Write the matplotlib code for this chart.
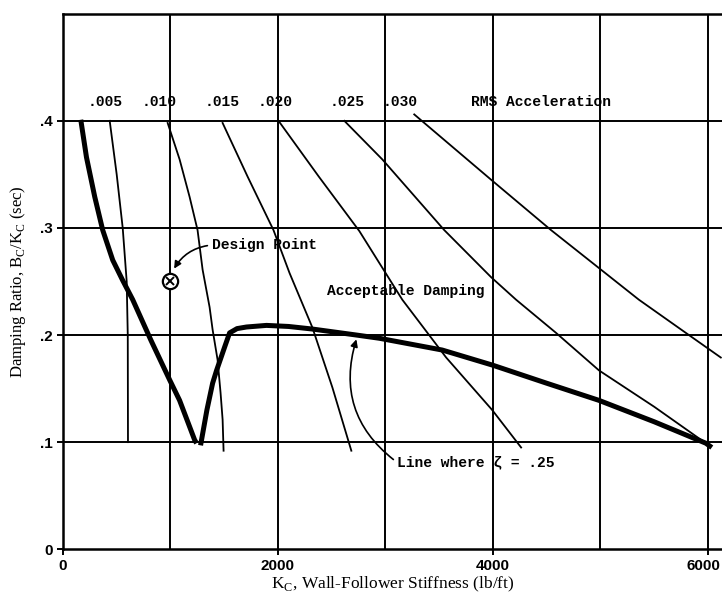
import numpy as np
import matplotlib.pyplot as plt
from matplotlib.transforms import ScaledTranslation

# RMS acceleration contours (K_c in lb/ft, damping ratio B_c/K_c in sec)
k_005 = [436, 501, 557, 594, 604, 606]
b_005 = [0.40, 0.35, 0.30, 0.25, 0.20, 0.10]

k_010 = [975, 1086, 1179, 1253, 1300, 1365, 1393, 1439, 1467, 1486, 1495]
b_010 = [0.398, 0.364, 0.329, 0.298, 0.261, 0.226, 0.205, 0.177, 0.146, 0.121, 0.092]

k_015 = [1486, 1718, 1959, 2108, 2321, 2507, 2683]
b_015 = [0.398, 0.348, 0.298, 0.258, 0.207, 0.151, 0.092]

k_020 = [2006, 2380, 2758, 3157, 3565, 3993, 4262]
b_020 = [0.40, 0.348, 0.297, 0.233, 0.179, 0.130, 0.095]

k_025 = [2618, 2971, 3547, 3983, 4215, 4587, 4986, 5500, 5980]
b_025 = [0.40, 0.364, 0.298, 0.254, 0.233, 0.202, 0.167, 0.133, 0.099]

k_030 = [3268, 3983, 4540, 5357, 5794, 6119]
b_030 = [0.406, 0.345, 0.298, 0.233, 0.202, 0.179]

contour_labels = ['.005', '.010', '.015', '.020', '.025', '.030']
label_k = [232, 733, 1318, 1811, 2479, 2971]

# boundary of acceptable damping (zeta = .25), two branches
k_left = [167, 220, 297, 371, 464, 557, 650, 820, 994, 1086, 1226, 1244]
b_left = [0.401, 0.366, 0.329, 0.298, 0.270, 0.251, 0.233, 0.195, 0.158, 0.139, 0.102, 0.099]

k_right = [1281, 1340, 1393, 1430, 1509, 1551, 1620, 1708, 1894, 2100, 2321,
           2730, 2943, 3528, 3993, 4500, 4986, 5500, 5980, 6035]
b_right = [0.097, 0.13, 0.155, 0.167, 0.19, 0.202, 0.206, 0.2075, 0.209, 0.208, 0.2056,
           0.200, 0.197, 0.186, 0.172, 0.155, 0.139, 0.119, 0.099, 0.095]

design_k = 1000
design_b = 0.25

mono = 'Liberation Mono'

fig = plt.figure(figsize=(7.22, 5.97), dpi=100)
ax = fig.add_axes([0.087, 0.080, 0.913, 0.897])
ax.set_xlim(0, 6130)
ax.set_ylim(0, 0.5)

# grid
for xv in range(1000, 7000, 1000):
    ax.axvline(xv, color='black', lw=1.4, zorder=1)
for yv in [0.1, 0.2, 0.3, 0.4]:
    ax.axhline(yv, color='black', lw=1.4, zorder=1)

for k, b in [(k_005, b_005), (k_010, b_010), (k_015, b_015),
             (k_020, b_020), (k_025, b_025), (k_030, b_030)]:
    ax.plot(k, b, color='black', lw=1.3, zorder=2)

ax.plot(k_left, b_left, color='black', lw=3.6, solid_capstyle='butt', zorder=3)
ax.plot(k_right, b_right, color='black', lw=3.6, solid_capstyle='butt', zorder=3)

for lab, kx in zip(contour_labels, label_k):
    ax.text(kx, 0.418, lab, family=mono, fontsize=10.5, fontweight='bold',
            va='center', ha='left', zorder=4)
ax.text(3798, 0.418, 'RMS Acceleration', family=mono, fontsize=10.5,
        fontweight='bold', va='center', ha='left')

# design point
ax.plot(design_k, design_b, marker='o', ms=11, mfc='white', mec='black', mew=1.6, zorder=5)
ax.plot(design_k, design_b, marker='x', ms=6, mec='black', mew=1.4, zorder=6)
ax.annotate('Design Point', xy=(1035, 0.262), xytext=(1383, 0.284),
            family=mono, fontsize=10.5, fontweight='bold', va='center', ha='left',
            arrowprops=dict(arrowstyle='-|>', color='black', lw=1.2, relpos=(0, 0.5),
                            connectionstyle='arc3,rad=0.25', shrinkA=1, shrinkB=0))

ax.text(2460, 0.241, 'Acceptable Damping', family=mono, fontsize=10.5,
        fontweight='bold', va='center', ha='left')

ax.annotate('Line where ζ = .25', xy=(2730, 0.196), xytext=(3110, 0.081),
            family=mono, fontsize=10.5, fontweight='bold', va='center', ha='left',
            arrowprops=dict(arrowstyle='-|>', color='black', lw=1.2, relpos=(0, 0.5),
                            connectionstyle='arc3,rad=-0.35', shrinkA=1, shrinkB=0))

ax.set_xticks([0, 2000, 4000, 6000])
ax.set_xticklabels(['0', '2000', '4000', '6000'])
ax.set_yticks([0, 0.1, 0.2, 0.3, 0.4])
ax.set_yticklabels(['0', '.1', '.2', '.3', '.4'])
for t in ax.get_xticklabels() + ax.get_yticklabels():
    t.set_family('Liberation Sans')
    t.set_fontweight('bold')
    t.set_fontsize(11)
ax.tick_params(length=4, width=1.4, direction='out', pad=3)

# last x label sits against the right edge, nudge it left a little
last = ax.get_xticklabels()[-1]
last.set_transform(last.get_transform() + ScaledTranslation(-0.05, 0, fig.dpi_scale_trans))

for side in ['left', 'bottom', 'top']:
    ax.spines[side].set_linewidth(1.8)
ax.spines['right'].set_visible(False)

ax.set_xlabel(r'K$_\mathregular{C}$, Wall-Follower Stiffness (lb/ft)',
              family='Liberation Serif', fontsize=12.5, labelpad=1)
ax.set_ylabel(r'Damping Ratio, B$_\mathregular{C}$/K$_\mathregular{C}$ (sec)',
              family='Liberation Serif', fontsize=12, labelpad=9)

fig.savefig('out.png', dpi=100)
